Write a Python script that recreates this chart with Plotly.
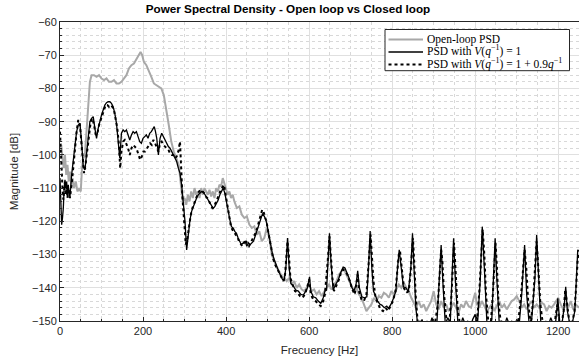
import plotly.graph_objects as go

# ---- Open-loop PSD (gray) ----
f_ol = [0,3,6,9,12,15,18,21,24,27,30,34,38,42,46,50,53,56,60,64,68,72,76,82,88,94,100,106,112,118,124,130,136,142,148,154,160,166,172,178,184,190,194,198,202,208,214,220,226,232,238,244,250,256,262,268,274,280,286,292,296,300,304,308,312,316,320,324,328,332,336,340,344,348,352,356,360,364,368,372,376,380,384,388,392,396,400,404,408,412,416,420,426,432,438,444,450,456,462,468,474,480,486,492,498,504,510,516,522,528,534,540,546,552,558,564,570,576,582,588,594,600,606,612,618,624,630,636,642,648,654,660,666,672,678,684,690,696,702,708,714,720,726,732,738,744,750,756,762,768,774,780,786,792,798,804,810,816,822,828,834,840,846,852,858,864,870,876,882,888,894,900,906,912,918,924,930,936,942,948,954,960,966,972,978,984,990,996,1000,1004,1010,1016,1022,1028,1034,1040,1046,1052,1058,1064,1070,1076,1082,1088,1094,1100,1106,1112,1118,1124,1130,1136,1142,1148,1154,1160,1166,1172,1178,1184,1190,1196,1200,1206,1212,1218,1224,1230,1236,1242,1250]
psd_ol = [-98,-97,-101,-104,-100,-106,-103,-108,-105,-109,-107,-110,-108,-111,-110,-111,-104,-101,-100,-92,-84,-78,-76,-76,-76.5,-76,-77,-77.5,-77,-78,-78,-77.5,-78.5,-78.5,-78,-77,-76,-74,-73,-72.5,-71,-69.5,-69,-70,-72,-73,-74.5,-76.5,-78.5,-79,-79.5,-80,-82,-86,-91,-96,-99,-101,-103,-110,-114,-113,-115,-112,-114,-111,-113,-110,-112,-111,-113,-110,-112,-110,-111,-112,-110.5,-112.5,-111,-113,-110,-111,-109,-109.5,-107,-108.5,-110,-112,-111,-113,-112,-114,-116,-115.5,-118,-119,-118.5,-121,-122,-121.5,-124,-123,-126,-125,-122,-125,-130,-132,-134,-135,-136.5,-137,-138,-137,-139,-138,-140,-139,-140.5,-141,-140,-139,-141,-140.5,-142,-141,-142.5,-141,-140,-139,-140.5,-139,-138,-136,-135,-134.5,-136,-138,-139.5,-141,-140,-142,-143,-145,-147,-146,-145,-143,-144,-142.5,-143,-141.5,-142,-143,-141,-142,-140.5,-139,-140,-138.5,-140,-141,-143,-144.5,-146,-144,-146,-145,-147,-145.5,-144,-141,-145,-146.5,-144,-146,-145,-147,-146,-144.5,-146,-147.5,-145,-146,-144,-145.5,-146,-143,-141.5,-145,-146,-144,-145.5,-147,-146,-145,-147,-145.5,-144,-146,-145,-146.5,-145,-144,-143.5,-142.5,-144,-146,-145,-146.5,-145,-144,-146,-145,-146,-144.5,-145,-147,-145.5,-146,-145,-143.5,-143,-145,-146.5,-145,-146,-144,-146.5,-145,-146]

# ---- Closed loop, V(q^-1) = 1 (black solid) ----
f_v1 = [0,2,4,6,8,10,12,14,16,18,20,22,24,28,32,36,40,44,48,52,56,60,64,68,72,76,80,84,88,92,96,100,104,108,112,116,120,124,128,132,136,140,144,148,152,156,160,164,168,172,176,180,184,188,192,196,200,204,208,212,216,220,224,227,230,233,237,241,245,249,253,257,261,265,269,273,277,281,285,289,293,297,301,305,309,313,317,321,325,329,333,337,341,345,349,353,357,361,365,369,373,377,381,385,389,393,397,401,405,409,413,417,421,425,429,433,437,441,446,450,454,458,462,466,470,474,478,482,486,488,492,496,500,504,508,512,516,520,524,528,532,536,540,544,548,552,556,562,568,574,580,586,592,596,601,604,610,616,622,628,634,638,642,645,649,653,658,664,670,676,682,686,690,696,702,708,713,717,721,727,733,739,743,747,751,755,759,765,771,775,781,787,791,797,803,809,813,817,821,827,833,839,845,849,853,857,861,866,872,878,884,890,896,902,908,914,918,922,928,934,940,944,948,952,958,964,970,976,982,988,994,1000,1006,1012,1017,1022,1028,1034,1040,1044,1048,1052,1058,1064,1070,1076,1082,1088,1094,1100,1106,1112,1119,1124,1130,1136,1144,1148,1152,1158,1164,1170,1176,1182,1188,1194,1199,1204,1210,1214,1218,1222,1228,1234,1240,1244,1247,1250]
psd_v1 = [-107,-115,-121,-119,-116,-110,-107.5,-110,-108,-112,-109,-112,-112.5,-106,-101,-96,-93,-91,-90.5,-96,-103.5,-104.5,-99,-93.5,-90,-89,-88.5,-92,-95,-92,-89.5,-88,-86.5,-85,-84.3,-84,-84,-84.5,-85.5,-87.5,-90.5,-95,-101,-93.5,-92.5,-93,-92.5,-94,-95.5,-94,-93,-93.5,-93,-94.5,-96,-96.5,-95,-94.5,-94,-95,-93.5,-93,-92,-91.5,-93,-95,-100,-95,-93.5,-94.5,-95.5,-96.5,-97.5,-98,-99,-99.5,-100.5,-102,-104,-105.5,-109,-113.5,-120,-128.6,-124,-119.6,-117,-115.5,-114.6,-113,-112,-111.6,-111,-111.1,-112,-112.5,-113.6,-114.5,-115.5,-116.1,-115.5,-114.5,-113.6,-112,-111,-110,-111.5,-114.6,-117,-119.5,-121.6,-122,-123,-123.6,-125,-126,-127.1,-126.5,-126,-127.5,-126.5,-127,-126.5,-126,-124.5,-123,-121.6,-119.5,-118,-117.6,-118.5,-119.6,-122,-125,-127.5,-130,-131.5,-133,-134.5,-135.5,-136.5,-137.5,-137.7,-134,-125,-134,-138.7,-139.5,-140.7,-141,-142,-142.2,-141,-140,-136.7,-141,-142.7,-143,-144,-144.7,-143,-141,-140.7,-133,-123.6,-133,-140.7,-139,-137.7,-135.5,-133.8,-134,-135.2,-137,-139.7,-141,-139,-134.9,-140,-142.7,-143,-142.7,-134,-122.9,-134,-141,-142.2,-144,-145,-145.2,-146,-145.5,-146.2,-145,-143.2,-141,-134,-128.6,-133,-139.7,-140,-141.2,-134,-123.6,-135,-146,-150.5,-152,-149.5,-153,-150,-151.5,-149,-152,-150,-138,-127.1,-138,-151,-149,-150.5,-137,-125.1,-137,-150,-152,-149,-151,-150,-152,-149.5,-148,-150,-138,-121.6,-134,-150,-153,-149.5,-137,-125.1,-137,-151,-150,-152,-149,-151,-150,-152,-149.5,-151,-142,-127.1,-142,-151,-149.5,-137,-124.1,-137,-150.5,-152,-150,-151.5,-149,-151,-150,-143.2,-151,-150,-146,-139.7,-147,-151,-150.5,-147,-138,-128.6,-129]

# ---- Closed loop, V(q^-1) = 1 + 0.9 q^-1 (black dotted) ----
f_v2 = [0,2,4,6,8,10,12,14,16,18,20,22,24,28,32,36,40,44,48,52,56,58,62,66,70,74,78,82,86,90,94,98,102,106,110,114,118,122,126,130,134,138,142,145,148,152,156,160,164,168,172,176,180,184,188,193,197,201,205,209,213,217,221,225,229,233,237,241,245,249,253,257,261,265,269,273,277,281,285,289,292,295,299,303,307,311,315,319,323,327,331,335,339,343,347,351,355,359,363,367,371,375,379,383,387,391,395,399,403,407,411,415,419,423,427,431,435,439,443,447,451,455,459,463,467,471,475,479,483,487,490,494,498,502,506,510,514,518,522,526,530,534,538,542,545,548,551,555,560,566,572,578,584,590,595,600,604,610,616,622,628,634,638,642,646,649,652,656,660,666,672,678,682,686,692,698,704,710,714,717,720,726,732,738,742,746,748,751,755,760,766,772,778,784,790,796,802,808,812,816,819,823,828,834,840,844,847,850,853,857,862,868,874,880,886,892,898,904,910,914,918,921,925,931,937,943,946,949,952,957,963,969,975,981,987,993,999,1005,1010,1014,1018,1022,1026,1032,1038,1043,1046,1049,1052,1056,1062,1068,1074,1080,1086,1092,1098,1104,1110,1115,1119,1123,1128,1134,1140,1144,1148,1152,1157,1163,1169,1175,1181,1187,1193,1198,1202,1208,1213,1217,1221,1227,1233,1239,1243,1247,1250]
psd_v2 = [-93,-100,-104,-110,-113.5,-111,-108,-112,-109.5,-113,-110,-111,-113,-109,-103,-97,-93,-89.5,-91,-97,-104,-105.5,-102.5,-98,-93,-90,-89,-91,-94,-93.5,-91,-89.5,-88,-86,-85,-85,-85.5,-85,-85.5,-86.5,-89,-92,-97,-104,-99,-96,-95.5,-96.5,-98,-100,-98,-97,-97.5,-98,-99.5,-101.5,-100.5,-99,-99,-98,-97,-96.5,-97,-95.5,-96.5,-98,-99,-96.5,-96,-97,-97.5,-98,-98.5,-99.5,-100,-100,-101,-100.5,-99,-96,-106,-113,-120,-127,-125,-121,-118,-116,-114.5,-113.5,-112,-111,-110.5,-111,-111.5,-112.5,-113,-114,-115,-116,-115.5,-114.5,-113,-112,-110.5,-109.5,-109,-112,-115,-118,-121,-122.5,-123,-124,-124.5,-126,-127,-127.5,-126.5,-125.5,-127,-127.5,-126.5,-125.5,-125,-123.5,-122,-120,-118,-116.5,-117,-118.5,-120.5,-123.5,-126.5,-129.5,-131.5,-133,-134,-135,-136,-137,-138,-136,-130,-126,-130,-137,-139,-141,-141.5,-142.5,-143,-142,-140,-137.5,-142,-143.5,-144,-145,-145.5,-144,-142,-137,-130,-124.5,-130,-137,-141,-139.5,-137.5,-135,-134.5,-135,-136,-138,-140.5,-142,-139,-136,-141,-143.5,-144,-142,-135,-128,-124,-130,-138,-143,-145,-146.5,-147,-146,-147,-145.5,-144,-141,-135,-130,-129,-134,-140,-141.5,-141,-136,-130,-125,-132,-143,-151,-150,-152,-150.5,-152,-150,-151,-150,-145,-137,-128.5,-132,-142,-150,-152,-142,-134,-126.5,-133,-145,-151,-150,-152,-150.5,-151,-150,-151,-149,-141,-131,-122.5,-130,-142,-151,-150,-141,-133,-126.5,-133,-144,-151,-152,-150.5,-151,-152,-150,-151,-150,-143,-134,-128.5,-134,-145,-151,-143,-134,-126,-134,-145,-151,-150.5,-152,-150,-151.5,-149,-145,-150,-151,-147,-140.5,-145,-150.5,-151,-147,-140,-131,-130]

x_ticks = [0, 200, 400, 600, 800, 1000, 1200]
y_ticks = [-150, -140, -130, -120, -110, -100, -90, -80, -70, -60]

names = ["Open-loop PSD",
         "PSD with <i>V</i>(<i>q</i><sup>−1</sup>) = 1",
         "PSD with <i>V</i>(<i>q</i><sup>−1</sup>) = 1 + 0.9<i>q</i><sup>−1</sup>"]
styles = [dict(color="#a8a8a8", width=2),
          dict(color="#000000", width=1.3),
          dict(color="#000000", width=2, dash="dot")]

fig = go.Figure()
for fx, fy, nm, st in [(f_ol, psd_ol, names[0], styles[0]),
                       (f_v1, psd_v1, names[1], styles[1]),
                       (f_v2, psd_v2, names[2], styles[2])]:
    fig.add_trace(go.Scatter(x=fx, y=fy, mode="lines", name=nm, line=st, showlegend=False))

# ---- compact MATLAB-style legend (box, sample lines, labels) ----
plot_l, plot_r, plot_t, plot_b = 60, 579, 22, 321
def px(x):
    return (x - plot_l) / (plot_r - plot_l)
def py(y):
    return (plot_b - y) / (plot_b - plot_t)

shapes = [dict(type="rect", xref="paper", yref="paper",
               x0=px(385), x1=px(569.5), y0=py(70.7), y1=py(29.5),
               fillcolor="white", line=dict(color="#262626", width=1), layer="above")]
annotations = []
line_y = [39.5, 52.0, 64.5]
text_y = [39.5, 50.8, 63.3]
for ly, ty, nm, st in zip(line_y, text_y, names, styles):
    shapes.append(dict(type="line", xref="paper", yref="paper",
                       x0=px(388.5), x1=px(423), y0=py(ly), y1=py(ly),
                       line=st, layer="above"))
    annotations.append(dict(text=nm, xref="paper", yref="paper",
                            x=px(425.5), y=py(ty), xanchor="left", yanchor="middle",
                            showarrow=False, borderpad=0,
                            font=dict(family="Liberation Serif, Times New Roman, serif",
                                      size=11.5, color="#000000")))

axis_common = dict(
    showline=True, linecolor="#262626", linewidth=1, mirror=True,
    ticks="inside", ticklen=4, tickcolor="#262626",
    showgrid=True, gridcolor="#e0e0e0", gridwidth=1,
    zeroline=False,
    tickfont=dict(family="Liberation Sans, Arial", size=11, color="#262626"),
)

fig.update_layout(
    width=579, height=362,
    margin=dict(l=60, r=0, t=22, b=41),
    plot_bgcolor="white", paper_bgcolor="white",
    showlegend=False,
    shapes=shapes, annotations=annotations,
    title=dict(text="<b>Power Spectral Density - Open loop vs Closed loop</b>",
               x=288 / 579, xanchor="center", y=0.975, yanchor="middle",
               font=dict(family="Liberation Sans, Arial", size=11.7, color="#000000")),
    xaxis=dict(range=[0, 1250], tickvals=x_ticks,
               title=dict(text="Frecuency [Hz]", standoff=9,
                          font=dict(family="Liberation Sans, Arial", size=11.5, color="#262626")),
               minor=dict(dtick=50, showgrid=True, gridcolor="#d8d8d8", griddash="dot",
                          ticks="inside", ticklen=2, tickcolor="#262626"),
               **axis_common),
    yaxis=dict(range=[-150, -60], tickvals=y_ticks,
               title=dict(text="Magnitude [dB]", standoff=10,
                          font=dict(family="Liberation Sans, Arial", size=11.5, color="#262626")),
               minor=dict(dtick=2, showgrid=True, gridcolor="#d8d8d8", griddash="dot",
                          ticks="inside", ticklen=2, tickcolor="#262626"),
               **axis_common),
)

fig.write_html("out.html")
